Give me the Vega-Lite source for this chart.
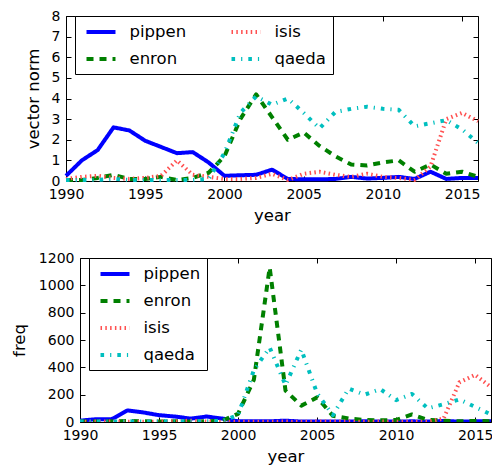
{
  "$schema": "https://vega.github.io/schema/vega-lite/v6.json",
  "padding": {"left": 10, "top": 9, "right": 0, "bottom": 0},
  "config": {
    "font": "DejaVu Sans",
    "view": {"stroke": "black", "strokeWidth": 1},
    "axis": {
      "domain": false, "grid": false, "labelFlush": false,
      "labelFont": "DejaVu Sans", "labelFontSize": 14, "labelColor": "black",
      "titleFont": "DejaVu Sans", "titleFontSize": 16.5, "titleFontWeight": "normal", "titleColor": "black",
      "tickColor": "black", "tickSize": -5, "tickWidth": 1, "domainColor": "black", "domainWidth": 1
    },
    "legend": {
      "labelFont": "DejaVu Sans", "labelFontSize": 16.5, "labelColor": "black",
      "symbolType": "M-2,0H2", "symbolStrokeWidth": 4, "symbolSize": 210, "symbolOffset": 10,
      "strokeColor": "black", "fillColor": "white", "cornerRadius": 0,
      "padding": 6.5, "rowPadding": 9, "labelOffset": 19, "columnPadding": 37
    }
  },
  "datasets": {
    "t": [
      {"year":1990,"term":"pippen","norm":0.25,"freq":10},{"year":1991,"term":"pippen","norm":1.0,"freq":20},{"year":1992,"term":"pippen","norm":1.5,"freq":20},{"year":1993,"term":"pippen","norm":2.6,"freq":85},{"year":1994,"term":"pippen","norm":2.45,"freq":70},{"year":1995,"term":"pippen","norm":1.95,"freq":50},{"year":1996,"term":"pippen","norm":1.65,"freq":40},{"year":1997,"term":"pippen","norm":1.35,"freq":25},{"year":1998,"term":"pippen","norm":1.4,"freq":40},{"year":1999,"term":"pippen","norm":0.9,"freq":25},{"year":2000,"term":"pippen","norm":0.25,"freq":5},{"year":2001,"term":"pippen","norm":0.28,"freq":5},{"year":2002,"term":"pippen","norm":0.3,"freq":5},{"year":2003,"term":"pippen","norm":0.55,"freq":10},{"year":2004,"term":"pippen","norm":0.1,"freq":3},{"year":2005,"term":"pippen","norm":0.08,"freq":3},{"year":2006,"term":"pippen","norm":0.08,"freq":3},{"year":2007,"term":"pippen","norm":0.1,"freq":3},{"year":2008,"term":"pippen","norm":0.2,"freq":5},{"year":2009,"term":"pippen","norm":0.12,"freq":3},{"year":2010,"term":"pippen","norm":0.15,"freq":3},{"year":2011,"term":"pippen","norm":0.2,"freq":5},{"year":2012,"term":"pippen","norm":0.1,"freq":3},{"year":2013,"term":"pippen","norm":0.45,"freq":8},{"year":2014,"term":"pippen","norm":0.1,"freq":3},{"year":2015,"term":"pippen","norm":0.15,"freq":5},{"year":2016,"term":"pippen","norm":0.15,"freq":5},
      {"year":1990,"term":"enron","norm":0.05,"freq":3},{"year":1991,"term":"enron","norm":0.05,"freq":3},{"year":1992,"term":"enron","norm":0.15,"freq":5},{"year":1993,"term":"enron","norm":0.3,"freq":8},{"year":1994,"term":"enron","norm":0.1,"freq":5},{"year":1995,"term":"enron","norm":0.1,"freq":3},{"year":1996,"term":"enron","norm":0.2,"freq":5},{"year":1997,"term":"enron","norm":0.05,"freq":3},{"year":1998,"term":"enron","norm":0.15,"freq":5},{"year":1999,"term":"enron","norm":0.4,"freq":10},{"year":2000,"term":"enron","norm":1.2,"freq":60},{"year":2001,"term":"enron","norm":3.0,"freq":310},{"year":2002,"term":"enron","norm":4.2,"freq":1130},{"year":2003,"term":"enron","norm":3.1,"freq":230},{"year":2004,"term":"enron","norm":2.0,"freq":120},{"year":2005,"term":"enron","norm":2.35,"freq":180},{"year":2006,"term":"enron","norm":1.7,"freq":45},{"year":2007,"term":"enron","norm":1.2,"freq":25},{"year":2008,"term":"enron","norm":0.8,"freq":15},{"year":2009,"term":"enron","norm":0.75,"freq":12},{"year":2010,"term":"enron","norm":0.9,"freq":15},{"year":2011,"term":"enron","norm":1.0,"freq":55},{"year":2012,"term":"enron","norm":0.45,"freq":15},{"year":2013,"term":"enron","norm":0.8,"freq":10},{"year":2014,"term":"enron","norm":0.35,"freq":5},{"year":2015,"term":"enron","norm":0.45,"freq":8},{"year":2016,"term":"enron","norm":0.2,"freq":5},
      {"year":1990,"term":"isis","norm":0.1,"freq":2},{"year":1991,"term":"isis","norm":0.2,"freq":3},{"year":1992,"term":"isis","norm":0.25,"freq":3},{"year":1993,"term":"isis","norm":0.15,"freq":2},{"year":1994,"term":"isis","norm":0.1,"freq":2},{"year":1995,"term":"isis","norm":0.15,"freq":3},{"year":1996,"term":"isis","norm":0.25,"freq":3},{"year":1997,"term":"isis","norm":1.0,"freq":10},{"year":1998,"term":"isis","norm":0.3,"freq":3},{"year":1999,"term":"isis","norm":0.2,"freq":2},{"year":2000,"term":"isis","norm":0.1,"freq":2},{"year":2001,"term":"isis","norm":0.1,"freq":2},{"year":2002,"term":"isis","norm":0.15,"freq":2},{"year":2003,"term":"isis","norm":0.35,"freq":3},{"year":2004,"term":"isis","norm":0.05,"freq":2},{"year":2005,"term":"isis","norm":0.35,"freq":3},{"year":2006,"term":"isis","norm":0.45,"freq":3},{"year":2007,"term":"isis","norm":0.3,"freq":3},{"year":2008,"term":"isis","norm":0.2,"freq":2},{"year":2009,"term":"isis","norm":0.35,"freq":3},{"year":2010,"term":"isis","norm":0.2,"freq":2},{"year":2011,"term":"isis","norm":0.15,"freq":2},{"year":2012,"term":"isis","norm":0.05,"freq":2},{"year":2013,"term":"isis","norm":0.7,"freq":25},{"year":2014,"term":"isis","norm":3.0,"freq":290},{"year":2015,"term":"isis","norm":3.3,"freq":345},{"year":2016,"term":"isis","norm":2.9,"freq":255},
      {"year":1990,"term":"qaeda","norm":0.05,"freq":3},{"year":1991,"term":"qaeda","norm":0.05,"freq":3},{"year":1992,"term":"qaeda","norm":0.05,"freq":3},{"year":1993,"term":"qaeda","norm":0.1,"freq":5},{"year":1994,"term":"qaeda","norm":0.05,"freq":3},{"year":1995,"term":"qaeda","norm":0.05,"freq":5},{"year":1996,"term":"qaeda","norm":0.05,"freq":5},{"year":1997,"term":"qaeda","norm":0.05,"freq":5},{"year":1998,"term":"qaeda","norm":0.05,"freq":5},{"year":1999,"term":"qaeda","norm":0.1,"freq":8},{"year":2000,"term":"qaeda","norm":1.35,"freq":50},{"year":2001,"term":"qaeda","norm":3.3,"freq":380},{"year":2002,"term":"qaeda","norm":4.1,"freq":545},{"year":2003,"term":"qaeda","norm":3.7,"freq":270},{"year":2004,"term":"qaeda","norm":4.0,"freq":530},{"year":2005,"term":"qaeda","norm":3.3,"freq":210},{"year":2006,"term":"qaeda","norm":2.55,"freq":50},{"year":2007,"term":"qaeda","norm":3.35,"freq":245},{"year":2008,"term":"qaeda","norm":3.5,"freq":200},{"year":2009,"term":"qaeda","norm":3.6,"freq":240},{"year":2010,"term":"qaeda","norm":3.5,"freq":160},{"year":2011,"term":"qaeda","norm":3.45,"freq":205},{"year":2012,"term":"qaeda","norm":2.65,"freq":100},{"year":2013,"term":"qaeda","norm":2.8,"freq":130},{"year":2014,"term":"qaeda","norm":2.95,"freq":165},{"year":2015,"term":"qaeda","norm":2.5,"freq":110},{"year":2016,"term":"qaeda","norm":1.85,"freq":55}
    ]
  },
  "data": {"name": "t"},
  "spacing": 26,
  "resolve": {"legend": {"color": "independent", "strokeDash": "independent"}},
  "vconcat": [
    {
      "width": 398, "height": 165,
      "view": {"stroke": null},
      "layer": [
        {
          "mark": {"type": "line", "strokeWidth": 4, "strokeCap": "butt", "strokeJoin": "round", "clip": false},
          "encoding": {
            "x": {"field": "year", "type": "quantitative", "scale": {"domain": [1990, 2016], "range": [-14, 398], "nice": false, "zero": false},
                  "axis": {"values": [1990, 1995, 2000, 2005, 2010, 2015], "format": "d", "title": "year", "labelPadding": 11, "titlePadding": 6, "domain": true}},
            "y": {"field": "norm", "type": "quantitative", "scale": {"domain": [0, 8], "nice": false},
                  "axis": {"values": [0,1,2,3,4,5,6,7,8], "format": "d", "title": "vector norm", "labelPadding": 11, "titlePadding": 10, "offset": 14, "domain": true}},
            "color": {"field": "term", "type": "nominal",
                      "scale": {"domain": ["pippen","enron","isis","qaeda"], "range": ["#0000ff","#008000","#ff5050","#00bfbf"]},
                      "legend": {"title": null, "orient": "none", "legendX": -5, "legendY": 0, "columns": 2}},
            "strokeDash": {"field": "term", "type": "nominal",
                      "scale": {"domain": ["pippen","enron","isis","qaeda"], "range": [[1,0],[7,6],[1.5,3.3],[3.6,6,1.2,6]]},
                      "legend": {"title": null, "orient": "none", "legendX": -5, "legendY": 0, "columns": 2}}
          }
        },
        {
          "mark": {"type": "line", "strokeOpacity": 0},
          "encoding": {
            "x": {"field": "year", "type": "quantitative", "axis": {"orient": "top", "values": [1990, 1995, 2000, 2005, 2010, 2015], "labels": false, "title": null, "domain": true}},
            "y": {"field": "norm", "type": "quantitative", "axis": {"orient": "right", "values": [0,1,2,3,4,5,6,7,8], "labels": false, "title": null, "domain": true}},
            "detail": {"field": "term"}
          }
        }
      ],
      "resolve": {"axis": {"x": "independent", "y": "independent"}}
    },
    {
      "width": 411, "height": 164,
      "layer": [
        {
          "mark": {"type": "line", "strokeWidth": 4, "strokeCap": "butt", "strokeJoin": "round", "clip": true},
          "encoding": {
            "x": {"field": "year", "type": "quantitative", "scale": {"domain": [1990, 2016], "nice": false, "zero": false},
                  "axis": {"values": [1990, 1995, 2000, 2005, 2010, 2015], "format": "d", "title": "year", "labelPadding": 11, "titlePadding": 6}},
            "y": {"field": "freq", "type": "quantitative", "scale": {"domain": [0, 1200], "nice": false},
                  "axis": {"values": [0,200,400,600,800,1000,1200], "format": "d", "title": "freq", "labelPadding": 11, "titlePadding": 11}},
            "color": {"field": "term", "type": "nominal",
                      "scale": {"domain": ["pippen","enron","isis","qaeda"], "range": ["#0000ff","#008000","#ff5050","#00bfbf"]},
                      "legend": {"title": null, "orient": "none", "legendX": 9, "legendY": 0}},
            "strokeDash": {"field": "term", "type": "nominal",
                      "scale": {"domain": ["pippen","enron","isis","qaeda"], "range": [[1,0],[7,6],[1.5,3.3],[3.6,6,1.2,6]]},
                      "legend": {"title": null, "orient": "none", "legendX": 9, "legendY": 0}}
          }
        },
        {
          "mark": {"type": "line", "strokeOpacity": 0},
          "encoding": {
            "x": {"field": "year", "type": "quantitative", "axis": {"orient": "top", "values": [1990, 1995, 2000, 2005, 2010, 2015], "labels": false, "title": null}},
            "y": {"field": "freq", "type": "quantitative", "axis": {"orient": "right", "values": [0,200,400,600,800,1000,1200], "labels": false, "title": null}},
            "detail": {"field": "term"}
          }
        }
      ],
      "resolve": {"axis": {"x": "independent", "y": "independent"}}
    }
  ]
}
